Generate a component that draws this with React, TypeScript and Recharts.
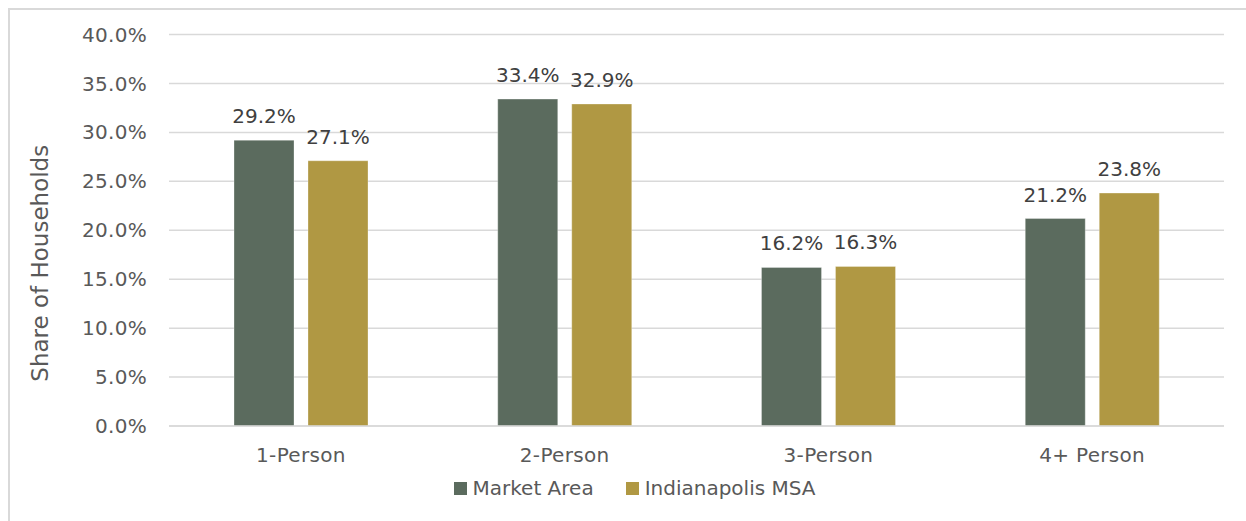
import React from 'react';
import { BarChart, Bar, XAxis, YAxis, CartesianGrid, Legend, LabelList } from 'recharts';

const categories = ['1-Person', '2-Person', '3-Person', '4+ Person'];
const marketArea = [29.2, 33.4, 16.2, 21.2];
const indianapolisMSA = [27.1, 32.9, 16.3, 23.8];
const yTicks = [0, 5, 10, 15, 20, 25, 30, 35, 40];

const data = categories.map((c, i) => ({
  name: c,
  market: marketArea[i],
  msa: indianapolisMSA[i],
}));

const FONT = '"DejaVu Sans", sans-serif';
const DARK = '#5b6b5e';
const GOLD = '#b09843';

const fmt = (v: number) => `${v.toFixed(1)}%`;

const LegendContent = () => (
  <div
    style={{
      height: 30,
      display: 'flex',
      justifyContent: 'center',
      alignItems: 'center',
      fontFamily: FONT,
      fontSize: 20,
      color: '#595959',
      paddingLeft: 45,
    }}
  >
    {[
      { label: 'Market Area', color: DARK },
      { label: 'Indianapolis MSA', color: GOLD },
    ].map((it, i) => (
      <div key={it.label} style={{ display: 'flex', alignItems: 'center', marginLeft: i ? 32 : 0 }}>
        <span style={{ display: 'inline-block', width: 13, height: 13, background: it.color, marginRight: 6 }} />
        <span>{it.label}</span>
      </div>
    ))}
  </div>
);

const YLabel = (props: any) => {
  const vb = props.viewBox || {};
  const cy = vb.y + vb.height / 2 + 33;
  return (
    <text
      x={40}
      y={cy}
      transform={`rotate(-90, 40, ${cy})`}
      textAnchor="middle"
      dominantBaseline="central"
      fill="#595959"
      fontFamily={FONT}
      fontSize={23}
    >
      Share of Households
    </text>
  );
};

const tickStyle = { fill: '#595959', fontFamily: FONT, fontSize: 20, letterSpacing: 0.3 };
const labelStyle = { fill: '#404040', fontFamily: FONT, fontSize: 20 };

export default function App() {
  return (
    <div style={{ position: 'absolute', left: 0, top: 0, width: 1246, height: 521, background: '#fff', overflow: 'hidden' }}>
      <div
        style={{
          position: 'absolute',
          left: 8,
          top: 8,
          width: 1300,
          height: 600,
          borderLeft: '2px solid #d9d9d9',
          borderTop: '2px solid #d9d9d9',
        }}
      />
      <div style={{ position: 'absolute', left: 0, top: 0 }}>
        <BarChart
          width={1246}
          height={521}
          data={data}
          margin={{ top: 34.5, right: 22, bottom: 18, left: 0 }}
          barSize={60}
          barGap={14}
        >
          <CartesianGrid vertical={false} stroke="#d9d9d9" strokeWidth={1.5} />
          <XAxis
            dataKey="name"
            height={47}
            tickLine={false}
            tickSize={6}
            tickMargin={16}
            axisLine={{ stroke: '#d9d9d9', strokeWidth: 1.5 }}
            tick={tickStyle}
          />
          <YAxis
            width={169}
            domain={[0, 40]}
            ticks={yTicks}
            tickFormatter={fmt}
            tickLine={false}
            axisLine={false}
            tickSize={6}
            tickMargin={16}
            tick={tickStyle}
            label={<YLabel />}
          />
          <Legend verticalAlign="bottom" height={30} content={<LegendContent />} />
          <Bar dataKey="market" name="Market Area" fill={DARK} stroke="rgba(255,255,255,0.3)" strokeWidth={1} isAnimationActive={false}>
            <LabelList
              dataKey="market"
              position="top"
              offset={17}
              formatter={(v: any) => fmt(Number(v))}
              style={labelStyle}
            />
          </Bar>
          <Bar dataKey="msa" name="Indianapolis MSA" fill={GOLD} stroke="rgba(255,255,255,0.3)" strokeWidth={1} isAnimationActive={false}>
            <LabelList
              dataKey="msa"
              position="top"
              offset={17}
              formatter={(v: any) => fmt(Number(v))}
              style={labelStyle}
            />
          </Bar>
        </BarChart>
      </div>
    </div>
  );
}
